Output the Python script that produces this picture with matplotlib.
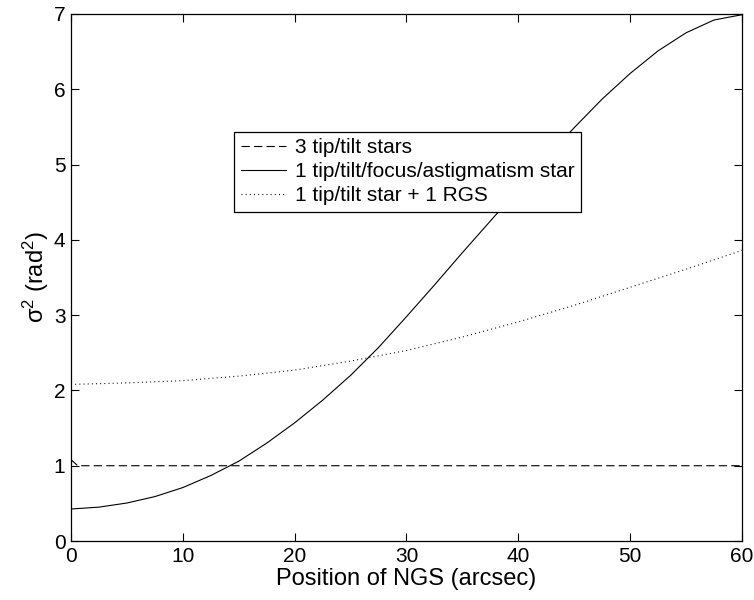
import matplotlib
matplotlib.use("Agg")
from matplotlib import pyplot as plt

#==========================+
# Values |
#==========================+
# 3 tip/tilt stars (dashed)
x_tt3 = [0, 0.6, 60]
y_tt3 = [1.08, 1.0, 1.0]

# 1 tip/tilt/focus/astigmatism star (solid)
x_tfa = [0, 2.5, 5, 7.5, 10, 12.5, 15, 17.5, 20, 22.5, 25, 27.5, 30,
         32.5, 35, 37.5, 40, 42.5, 45, 47.5, 50, 52.5, 55, 57.5, 60]
y_tfa = [0.425, 0.45, 0.505, 0.59, 0.71, 0.87, 1.06, 1.30, 1.57, 1.87, 2.20, 2.57, 2.98,
         3.40, 3.83, 4.25, 4.67, 5.09, 5.49, 5.87, 6.21, 6.51, 6.75, 6.92, 6.99]

# 1 tip/tilt star + 1 RGS (dotted)
x_rgs = [0, 5, 10, 15, 20, 25, 30, 35, 40, 45, 50, 55, 60]
y_rgs = [2.08, 2.10, 2.13, 2.19, 2.27, 2.39, 2.53, 2.71, 2.91, 3.13, 3.37, 3.61, 3.86]

labels = ['3 tip/tilt stars',
          '1 tip/tilt/focus/astigmatism star',
          '1 tip/tilt star + 1 RGS']

#================+
# Graph Plotting |
#================+
plt.rcParams['font.family'] = ['Liberation Sans', 'DejaVu Sans']
plt.rcParams['mathtext.fontset'] = 'custom'
plt.rcParams['mathtext.rm'] = 'Liberation Sans'
plt.rcParams['mathtext.it'] = 'Liberation Sans:italic'
plt.rcParams['lines.scale_dashes'] = False

fig = plt.figure(figsize=(7.54, 6), dpi=100)
ax = fig.add_axes([0.0942, 0.0983, 0.8898, 0.8784])

ax.plot(x_tt3, y_tt3, color='k', lw=0.8, dashes=(6, 3), label=labels[0])
ax.plot(x_tfa, y_tfa, color='k', lw=0.8, label=labels[1])
ax.plot(x_rgs, y_rgs, color='k', lw=0.8, dashes=(0.7, 2.3), label=labels[2])

ax.set_xlim(0, 60)
ax.set_ylim(0, 7)
ax.set_xticks(range(0, 61, 10))
ax.set_yticks(range(0, 8))
ax.tick_params(direction='in', length=6, width=0.8, top=True, right=True,
               labelsize=15, pad=4)
for s in ax.spines.values():
    s.set_linewidth(0.9)

ax.set_xlabel('Position of NGS (arcsec)', fontsize=17, labelpad=2)
ax.set_ylabel('σ$^{2}$ (rad$^{2}$)', fontsize=17, labelpad=2)

lgd = ax.legend(loc='upper left', bbox_to_anchor=(0.2434, 0.7767), borderaxespad=0,
                fontsize=15, frameon=True, fancybox=False, framealpha=1,
                edgecolor='k', handlelength=2.2, handletextpad=0.4,
                borderpad=0.3, labelspacing=0.25)
lgd.get_frame().set_linewidth(0.9)

plt.savefig('out.png', dpi=100)
